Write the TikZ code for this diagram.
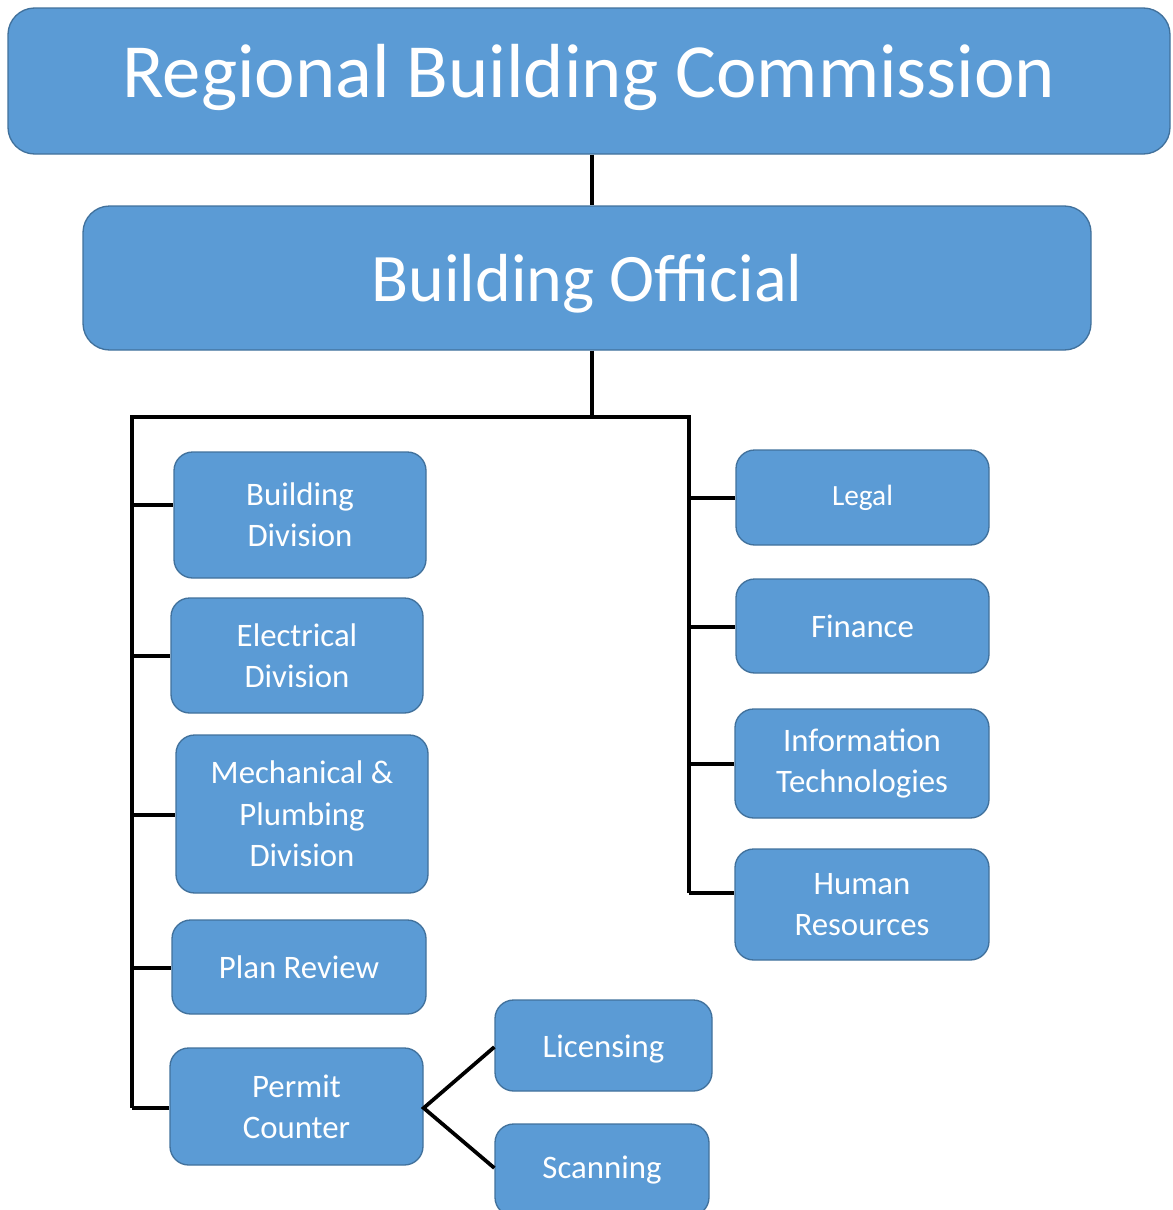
\documentclass[tikz,border=0pt]{standalone}
\usepackage{fontspec}
\setmainfont{Carlito}
\definecolor{boxfill}{HTML}{5B9BD5}
\definecolor{boxborder}{HTML}{41719C}
\begin{document}
\begin{tikzpicture}[x=0.75pt,y=-0.75pt,
  box/.style={draw=boxborder, line width=1pt, fill=boxfill, rounded corners=14pt,
    text=white, align=center, inner sep=0pt},
  sz/.style 2 args={minimum width=#1*0.75pt, minimum height=#2*0.75pt},
  small/.style={font=\fontsize{24.6}{31}\selectfont},
  conn/.style={line width=2.8pt, black}]
\useasboundingbox (0,0) rectangle (1172,1210);
% top boxes
\node[box, sz={1162}{146}, rounded corners=20pt, font=\fontsize{57.5}{60}\selectfont] (rbc) at (589,81) {\raisebox{3pt}[\height][\depth]{Regional Building Commission}};
\node[box, sz={1008}{144}, rounded corners=20pt, font=\fontsize{51}{55}\selectfont] (bo) at (587,278) {\raisebox{-4pt}[\height][\depth]{Building Official}};
% left column
\node[box, sz={252}{126}, small] (bd) at (300,515) {Building\\Division};
\node[box, sz={252}{115}, small] (ed) at (297,655.5) {Electrical\\Division};
\node[box, sz={252}{158}, small] (mp) at (302,814) {Mechanical \&\\Plumbing\\Division};
\node[box, sz={254}{94}, small] (pr) at (299,967) {Plan Review};
\node[box, sz={253}{117}, small] (pc) at (296.5,1106.5) {Permit\\Counter};
% right column
\node[box, sz={253}{95}, font=\fontsize{22}{28}\selectfont] (legal) at (862.5,497.5) {Legal};
\node[box, sz={253}{94}, small] (fin) at (862.5,626) {Finance};
\node[box, sz={254}{109}, small] (it) at (862,763.5) {Information\\Technologies};
\node[box, sz={254}{111}, small] (hr) at (862,904.5) {Human\\Resources};
% sub boxes
\node[box, sz={217}{91}, small] (lic) at (603.5,1045.5) {\raisebox{-3pt}[\height][\depth]{Licensing}};
\node[box, sz={214}{92}, small] (scan) at (602,1170) {Scanning};
% connectors
\coordinate (j) at (592,417);
\coordinate (lt) at (132,417);
\coordinate (rt) at (689,417);
\coordinate (lb) at (132,1108);
\coordinate (rb) at (689,893);
\draw[conn] (rbc.south -| j) -- (bo.north -| j);
\draw[conn] (bo.south -| j) -- (j);
\draw[conn] (lb) -- (lt) -- (rt) -- (rb);
\draw[conn] (132,505) -- (bd.west |- 0,505);
\draw[conn] (132,656) -- (ed.west |- 0,656);
\draw[conn] (132,815) -- (mp.west |- 0,815);
\draw[conn] (132,968) -- (pr.west |- 0,968);
\draw[conn] (lb) -- (pc.west |- lb);
\draw[conn] (689,498) -- (legal.west |- 0,498);
\draw[conn] (689,627) -- (fin.west |- 0,627);
\draw[conn] (689,764) -- (it.west |- 0,764);
\draw[conn] (rb) -- (hr.west |- rb);
\draw[conn, line join=miter] (lic.west |- 0,1047) -- (pc.east |- 0,1108) -- (scan.west |- 0,1168);
\end{tikzpicture}
\end{document}
